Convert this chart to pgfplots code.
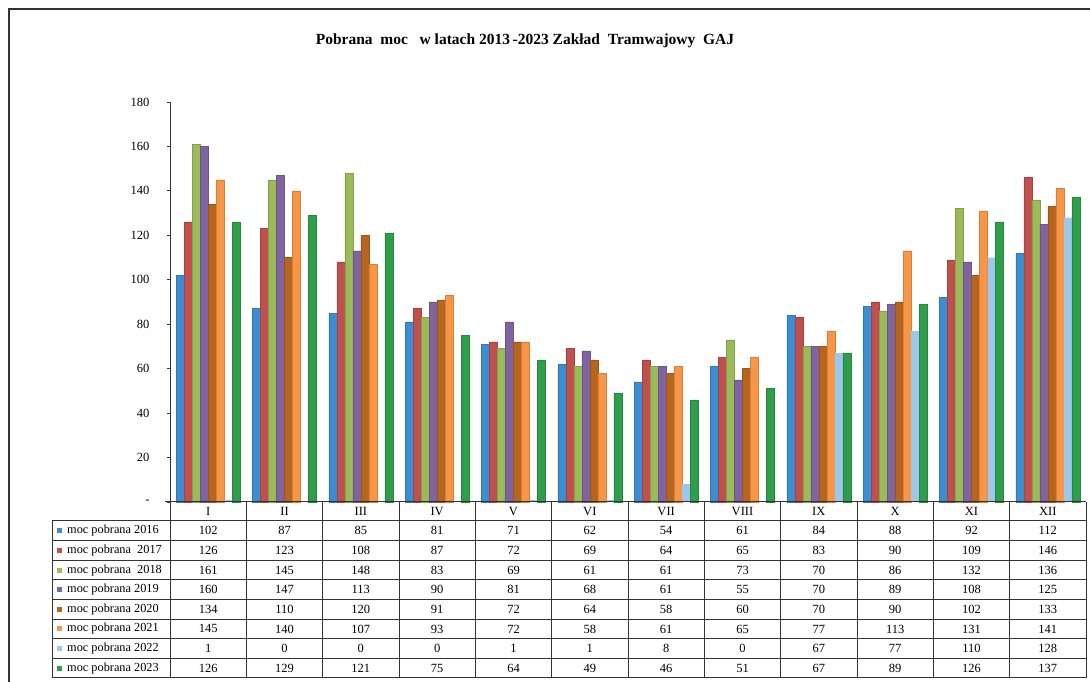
\documentclass[border=0pt]{standalone}
\usepackage{pgfplots}
\pgfplotsset{compat=1.18}
\usepackage{pgfplotstable}
\usepackage{fontspec}
\setmainfont{Liberation Serif}

\definecolor{c16}{HTML}{3B8ED4}
\definecolor{c17}{HTML}{C0504D}
\definecolor{c18}{HTML}{9BBB59}
\definecolor{c19}{HTML}{8064A2}
\definecolor{c20}{HTML}{B5651D}
\definecolor{c21}{HTML}{F79646}
\definecolor{c22}{HTML}{9DC8EE}
\definecolor{c23}{HTML}{2E9E4A}
\definecolor{ln}{HTML}{333333}

\pgfplotstableread{
m    y2016 y2017 y2018 y2019 y2020 y2021 y2022 y2023
I    102   126   161   160   134   145   1     126
II   87    123   145   147   110   140   0     129
III  85    108   148   113   120   107   0     121
IV   81    87    83    90    91    93    0     75
V    71    72    69    81    72    72    1     64
VI   62    69    61    68    64    58    1     49
VII  54    64    61    61    58    61    8     46
VIII 61    65    73    55    60    65    0     51
IX   84    83    70    70    70    77    67    67
X    88    90    86    89    90    113   77    89
XI   92    109   132   108   102   131   110   126
XII  112   146   136   125   133   141   128   137
}\data

\begin{document}
\begin{tikzpicture}
\useasboundingbox (0pt,0pt) rectangle (1090pt,682pt);

\begin{axis}[
  at={(170pt,180pt)}, anchor=south west,
  scale only axis, width=916pt, height=400pt,
  xmin=-0.5, xmax=11.5, ymin=0, ymax=180,
  ybar=0pt, bar width=8pt,
  axis x line*=bottom, axis y line*=left,
  axis line style={ln, line width=1pt},
  xtick=\empty,
  ytick={0,20,...,180},
  yticklabels={-,20,40,60,80,100,120,140,160,180},
  tick align=outside, major tick length=3pt,
  tick style={ln, line width=0.8pt},
  yticklabel style={font=\fontsize{12.5}{14}\selectfont, xshift=-14pt},
  clip=false,
]
\addplot[fill=c16, draw=c16!85!black, line width=0.4pt] table[x expr=\coordindex, y=y2016]{\data};
\addplot[fill=c17, draw=c17!85!black, line width=0.4pt] table[x expr=\coordindex, y=y2017]{\data};
\addplot[fill=c18, draw=c18!85!black, line width=0.4pt] table[x expr=\coordindex, y=y2018]{\data};
\addplot[fill=c19, draw=c19!85!black, line width=0.4pt] table[x expr=\coordindex, y=y2019]{\data};
\addplot[fill=c20, draw=c20!85!black, line width=0.4pt] table[x expr=\coordindex, y=y2020]{\data};
\addplot[fill=c21, draw=c21!85!black, line width=0.4pt] table[x expr=\coordindex, y=y2021]{\data};
\addplot[fill=c22, draw=none] table[x expr=\coordindex, y=y2022]{\data};
\addplot[fill=c23, draw=c23!85!black, line width=0.4pt] table[x expr=\coordindex, y=y2023]{\data};
\end{axis}

\begin{scope}[x=1pt,y=1pt]
% frame
\draw[ln, line width=1.3pt] (9,0) -- (9,673) -- (1090,673);
% title
\node[font=\fontsize{15.5}{17}\selectfont\bfseries] at (525,641)
  {Pobrana\ \ moc\ \ \ w latach 2013\,-2023 Zakład\ \ Tramwajowy\ \ GAJ};
% data table
\def\cw{76.333}
\def\rh{19.625}
\draw[ln, line width=1pt] (165,180) -- (1086,180);
\foreach \k in {0,...,12}{
  \draw[ln, line width=1pt] ({170+\cw*\k},180) -- ({170+\cw*\k},4);
}
\draw[ln, line width=1pt] (52,161) -- (1086,161);
\draw[ln, line width=1pt] (52,161) -- (52,4);
\foreach \i in {1,...,8}{
  \draw[ln, line width=1pt] (52,{161-\rh*\i}) -- (1086,{161-\rh*\i});
}
% header (months)
\foreach \r in {0,...,11}{
  \pgfplotstablegetelem{\r}{m}\of\data
  \node[font=\fontsize{12.5}{14}\selectfont] at ({170+\cw*(\r+0.5)},170.5) {\pgfplotsretval};
}
% rows
\foreach \c/\col/\lab [count=\ci from 0] in {
  y2016/c16/{moc pobrana 2016},
  y2017/c17/{moc pobrana\ \ 2017},
  y2018/c18/{moc pobrana\ \ 2018},
  y2019/c19/{moc pobrana 2019},
  y2020/c20/{moc pobrana 2020},
  y2021/c21/{moc pobrana 2021},
  y2022/c22/{moc pobrana 2022},
  y2023/c23/{moc pobrana 2023}}{
  \fill[\col] (57,{161-\rh*(\ci+0.5)-2.5}) rectangle ++(5,5);
  \node[anchor=west, inner sep=0pt, font=\fontsize{12.3}{14}\selectfont]
    at (67,{161-\rh*(\ci+0.5)}) {\lab};
  \foreach \r in {0,...,11}{
    \pgfplotstablegetelem{\r}{\c}\of\data
    \node[font=\fontsize{12.5}{14}\selectfont] at ({170+\cw*(\r+0.5)},{161-\rh*(\ci+0.5)}) {\pgfplotsretval};
  }
}
\end{scope}
\end{tikzpicture}
\end{document}
